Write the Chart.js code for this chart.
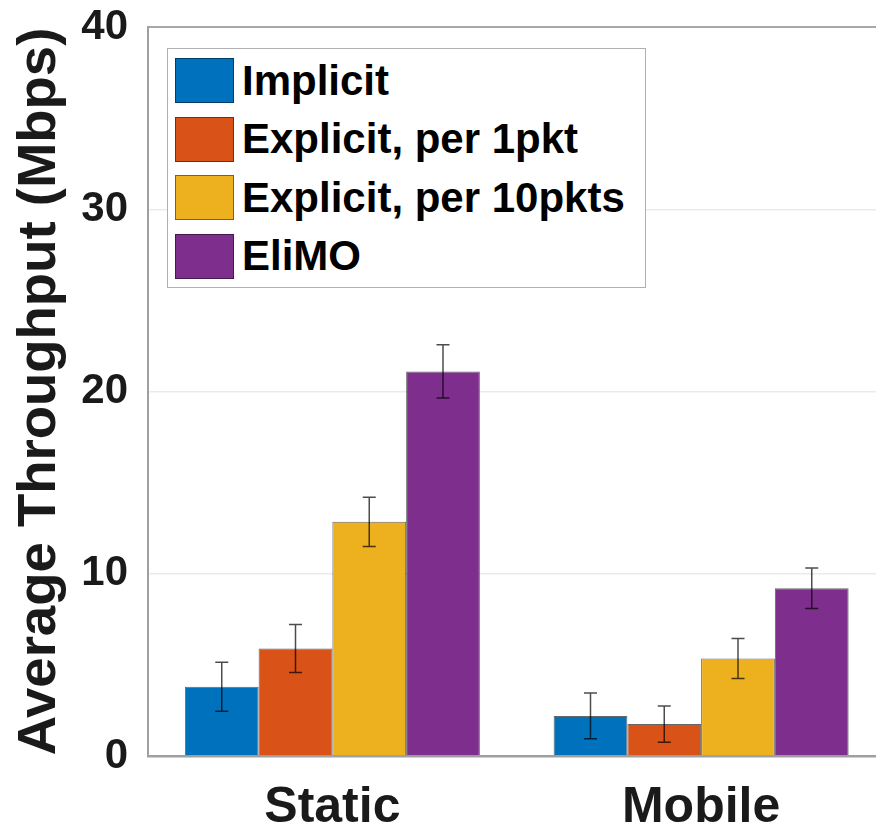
<!DOCTYPE html>
<html>
<head>
<meta charset="utf-8">
<script src="https://cdn.jsdelivr.net/npm/chart.js@4.4.1/dist/chart.umd.min.js"></script>
<style>
  html, body { margin: 0; padding: 0; overflow: hidden; background: #fff; }
  #wrap { position: relative; width: 890px; height: 825px; }
  #legendBox {
    position: absolute; left: 167px; top: 48px; width: 479px; height: 240px;
    border: 1.5px solid #b0b0b0; background: #fff; box-sizing: border-box;
    font-family: "Liberation Sans", Arial, sans-serif; font-weight: bold; font-size: 42px; color: #000;
  }
  .row { position: absolute; left: 7px; height: 45px; display: flex; align-items: center; white-space: nowrap; }
  .sw { width: 59px; height: 45px; box-sizing: border-box; border: 1px solid rgba(0,0,0,0.45); margin-right: 8px; }
</style>
</head>
<body>
<div id="wrap">
  <canvas id="chart"></canvas>
  <div id="legendBox"></div>
</div>
<script>
const categories = ['Static', 'Mobile'];
const seriesNames = ['Implicit', 'Explicit, per 1pkt', 'Explicit, per 10pkts', 'EliMO'];
const seriesColors = ['#0072BD', '#D95319', '#EDB120', '#7E2F8E'];
const implicitVals = [3.8, 2.2];
const explicit1Vals = [5.9, 1.75];
const explicit10Vals = [12.85, 5.35];
const elimoVals = [21.1, 9.2];
const implicitErr = [1.34, 1.25];
const explicit1Err = [1.32, 1.0];
const explicit10Err = [1.35, 1.1];
const elimoErr = [1.46, 1.11];
const yTicks = [0, 10, 20, 30, 40];

const values = [implicitVals, explicit1Vals, explicit10Vals, elimoVals];
const errors = [implicitErr, explicit1Err, explicit10Err, elimoErr];

// legend drawn as html on top of the plot (matlab style, inside the axes)
const legendBox = document.getElementById('legendBox');
seriesNames.forEach(function (name, i) {
  const row = document.createElement('div');
  row.className = 'row';
  row.style.top = (9 + i * 58.5) + 'px';
  row.innerHTML = '<div class="sw" style="background:' + seriesColors[i] + '"></div><span>' + name + '</span>';
  legendBox.appendChild(row);
});

const errorBars = {
  id: 'errorBars',
  afterDatasetsDraw(chart) {
    const ctx = chart.ctx;
    const y = chart.scales.y;
    ctx.save();
    ctx.strokeStyle = 'rgba(0,0,0,0.7)';
    ctx.lineWidth = 1.5;
    chart.data.datasets.forEach(function (ds, i) {
      const meta = chart.getDatasetMeta(i);
      meta.data.forEach(function (bar, j) {
        const v = ds.data[j], e = errors[i][j];
        const yt = y.getPixelForValue(v + e);
        const yb = y.getPixelForValue(v - e);
        const x = bar.x, w = 6.5;
        ctx.beginPath();
        ctx.moveTo(x, yt); ctx.lineTo(x, yb);
        ctx.moveTo(x - w, yt); ctx.lineTo(x + w, yt);
        ctx.moveTo(x - w, yb); ctx.lineTo(x + w, yb);
        ctx.stroke();
      });
    });
    ctx.restore();
  }
};

new Chart(document.getElementById('chart'), {
  type: 'bar',
  data: {
    labels: categories,
    datasets: seriesNames.map(function (name, i) {
      return {
        label: name,
        data: values[i],
        backgroundColor: seriesColors[i],
        borderColor: 'rgba(0,0,0,0.6)',
        borderWidth: 1,
        categoryPercentage: 0.8,
        barPercentage: 1.0
      };
    })
  },
  options: {
    responsive: true,
    maintainAspectRatio: false,
    animation: false,
    layout: { padding: { top: 0, right: 4.5, left: 0, bottom: 0 } },
    plugins: {
      legend: { display: false },
      tooltip: { enabled: false }
    },
    scales: {
      x: {
        grid: { display: false, drawTicks: false },
        border: { display: true, color: '#a0a0a0', width: 2.5 },
        ticks: {
          color: '#1a1a1a', padding: 22, maxRotation: 0,
          font: { family: '"Liberation Sans", Arial, sans-serif', weight: 'bold', size: 50 }
        },
        afterFit: function (scale) { scale.height = 69; }
      },
      y: {
        min: 0, max: 40,
        afterBuildTicks: function (scale) { scale.ticks = yTicks.map(function (v) { return { value: v }; }); },
        grid: {
          drawTicks: false,
          color: function (c) { return c.tick.value === 40 ? '#a8a8a8' : '#ebebeb'; },
          lineWidth: function (c) { return c.tick.value === 40 ? 2 : 1.5; }
        },
        border: { display: true, color: '#a0a0a0', width: 2 },
        ticks: {
          color: '#1a1a1a', padding: 20,
          font: { family: '"Liberation Sans", Arial, sans-serif', weight: 'bold', size: 42 }
        },
        title: {
          display: true,
          text: 'Average Throughput (Mbps)',
          color: '#1a1a1a',
          padding: { top: 13, bottom: 0 },
          font: { family: '"Liberation Sans", Arial, sans-serif', weight: 'bold', size: 54.5, lineHeight: 1 }
        },
        afterFit: function (scale) {
          scale.width = 148;
          scale.paddingTop = 27;
          scale.paddingBottom = 0;
        }
      }
    }
  },
  plugins: [errorBars]
});
</script>
</body>
</html>
